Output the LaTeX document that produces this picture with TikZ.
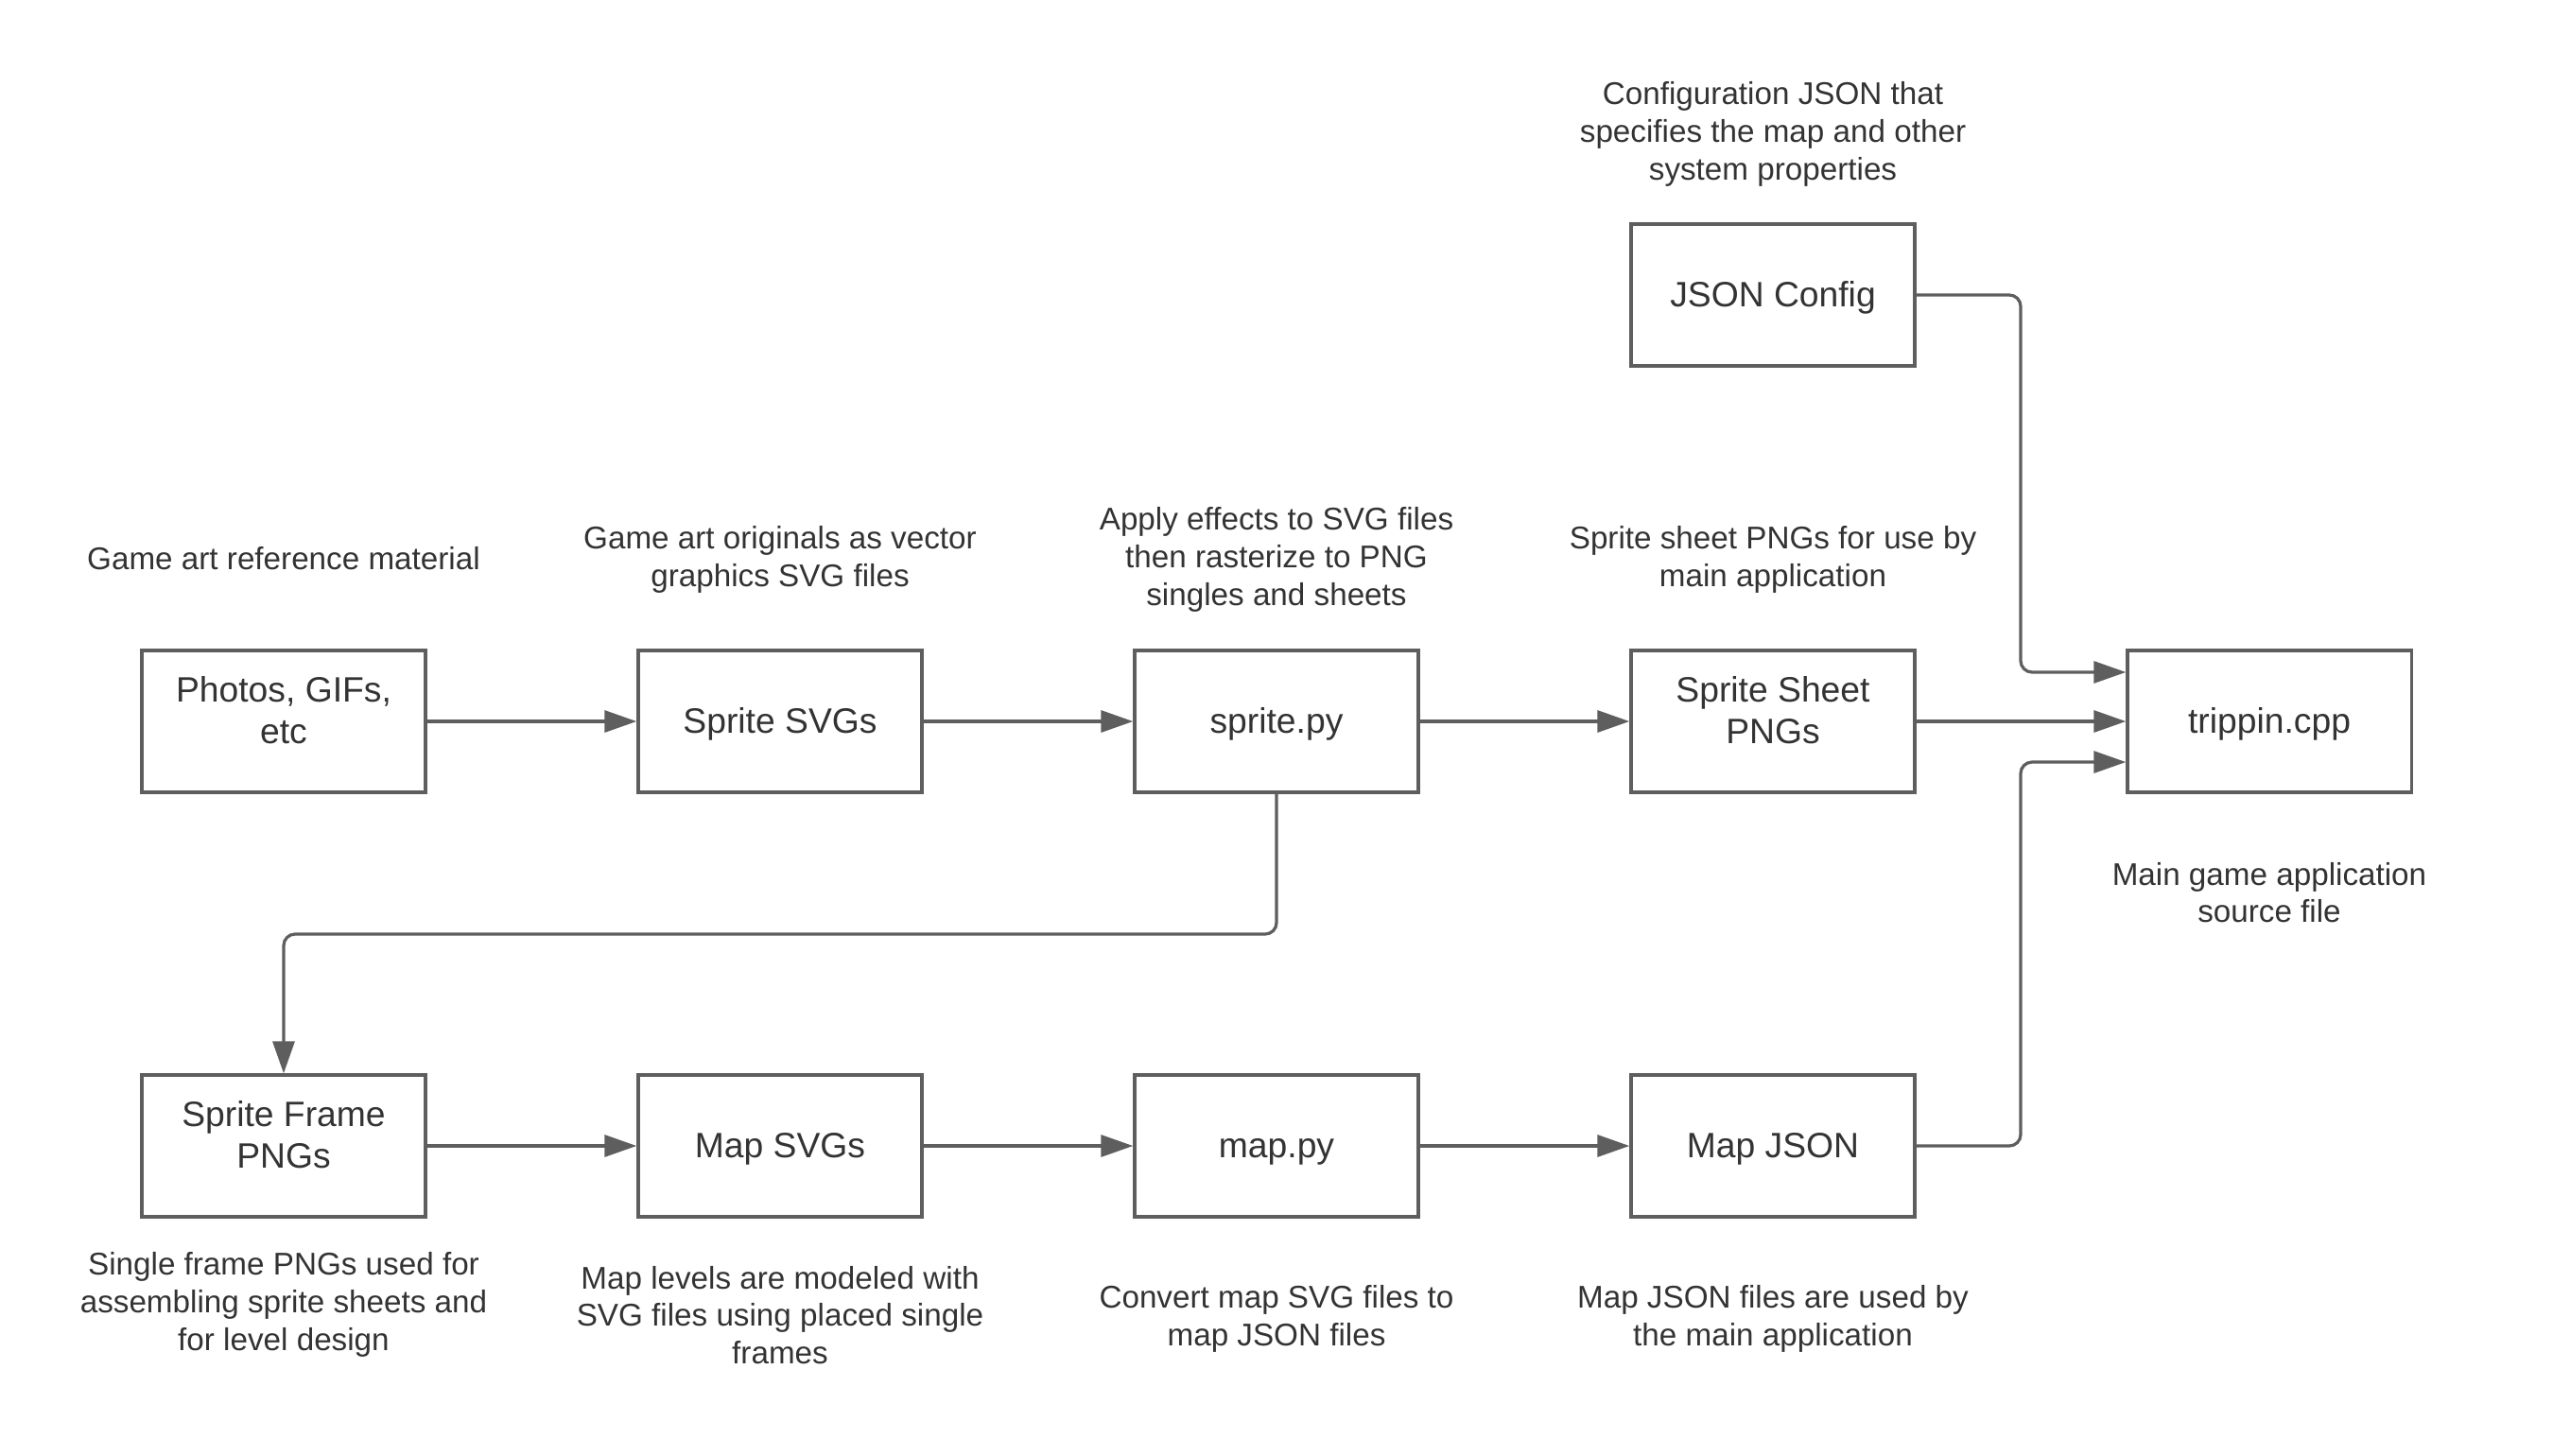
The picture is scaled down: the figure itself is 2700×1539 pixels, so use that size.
\documentclass[tikz,border=0pt]{standalone}
\usepackage{fontspec}
\setmainfont{Liberation Sans}
\usetikzlibrary{arrows.meta}
\definecolor{linegray}{HTML}{5E5E5E}
\definecolor{textgray}{HTML}{333333}
\begin{document}
\begin{tikzpicture}[x=0.01cm,y=-0.01cm,
  box/.style={draw=linegray,line width=0.92pt,fill=white,minimum width=3cm,minimum height=1.5cm,
    align=center,inner sep=0pt,text=textgray,font=\fontsize{10.6}{12.75}\selectfont},
  oneline/.style={text height=9.54pt,text depth=2.19pt},
  twoline/.style={text depth=6.8pt},
  note/.style={align=center,text=textgray,inner sep=0pt,font=\fontsize{9.45}{11.3}\selectfont},
  conn/.style={draw=linegray,line width=0.92pt,rounded corners=0.12cm,
    -{Triangle[length=0.34cm,width=0.23cm]}}]
\useasboundingbox (0,0) rectangle (2700,1539);
% boxes
\node[box,twoline] (photos) at (300,763) {Photos, GIFs,\\etc};
\node[box,oneline] (svgs) at (825,763) {Sprite SVGs};
\node[box,oneline] (spritepy) at (1350,763) {sprite.py};
\node[box,twoline] (sheet) at (1875,763) {Sprite Sheet\\PNGs};
\node[box,oneline] (trippin) at (2400,763) {trippin.cpp};
\node[box,oneline] (config) at (1875,312) {JSON Config};
\node[box,twoline] (frame) at (300,1212) {Sprite Frame\\PNGs};
\node[box,oneline] (mapsvgs) at (825,1212) {Map SVGs};
\node[box,oneline] (mappy) at (1350,1212) {map.py};
\node[box,oneline] (mapjson) at (1875,1212) {Map JSON};
% notes
\node[note] (n1) at (300,591) {Game art reference material};
\node[note] (n2) at (825,592) {Game art originals as vector\\graphics SVG files};
\node[note] (n3) at (1350,592) {Apply effects to SVG files\\then rasterize to PNG\\singles and sheets};
\node[note] (n4) at (1875,592) {Sprite sheet PNGs for use by\\main application};
\node[note] (n5) at (1875,142) {Configuration JSON that\\specifies the map and other\\system properties};
\node[note] (n6) at (2400,944) {Main game application\\source file};
\node[note] (n7) at (300,1380) {Single frame PNGs used for\\assembling sprite sheets and\\for level design};
\node[note] (n8) at (825,1391) {Map levels are modeled with\\SVG files using placed single\\frames};
\node[note] (n9) at (1350,1395) {Convert map SVG files to\\map JSON files};
\node[note] (n10) at (1875,1395) {Map JSON files are used by\\the main application};
% coordinates
\coordinate (tin1) at ([yshift=0.52cm]trippin.west);
\coordinate (tin3) at ([yshift=-0.43cm]trippin.west);
\coordinate (bendx) at (2137,312);
\coordinate (bendy) at (2137,1212);
% connectors
\draw[conn] (photos) -- (svgs);
\draw[conn] (svgs) -- (spritepy);
\draw[conn] (spritepy) -- (sheet);
\draw[conn] (sheet) -- (trippin);
\draw[conn] (frame) -- (mapsvgs);
\draw[conn] (mapsvgs) -- (mappy);
\draw[conn] (mappy) -- (mapjson);
\draw[conn] (config.east) -- (bendx) -- (bendx |- tin1) -- (tin1);
\draw[conn] (mapjson.east) -- (bendy) -- (bendy |- tin3) -- (tin3);
\draw[conn] (spritepy.south) -- (1350,988) -- (300,988) -- (frame.north);
\end{tikzpicture}
\end{document}
